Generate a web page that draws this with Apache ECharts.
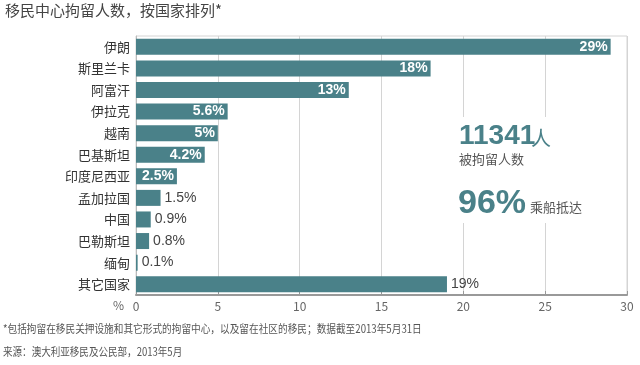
<!DOCTYPE html>
<html>
<head>
<meta charset="utf-8">
<script src="https://cdn.jsdelivr.net/npm/echarts@6/dist/echarts.min.js"></script>
<style>html,body{margin:0;padding:0;background:#fff}#c{width:640px;height:365px}</style>
</head>
<body>
<div id="c"></div>
<script>
const categories = ['伊朗','斯里兰卡','阿富汗','伊拉克','越南','巴基斯坦','印度尼西亚','孟加拉国','中国','巴勒斯坦','缅甸','其它国家'];
const values = [29, 18, 13, 5.6, 5, 4.2, 2.5, 1.5, 0.9, 0.8, 0.1, 19];
const outsideLabel = ['孟加拉国','中国','巴勒斯坦','缅甸','其它国家'];
const xTicks = [0, 5, 10, 15, 20, 25, 30];
const titleText = '移民中心拘留人数，按国家排列*';
const note1 = '*包括拘留在移民关押设施和其它形式的拘留中心，以及留在社区的移民；数据截至2013年5月31日';
const note2 = '来源：澳大利亚移民及公民部，2013年5月';
const bigNum = '11341';
const bigNumUnit = '人';
const bigNumSub = '被拘留人数';
const pct = '96%';
const pctSub = '乘船抵达';

const FONT = '"Noto Sans CJK SC", "Noto Sans", sans-serif';
const LATIN = '"Liberation Sans", Arial, sans-serif';
const TEAL = '#4a8189';

const data = values.map((v, i) => {
  const out = outsideLabel.indexOf(categories[i]) >= 0;
  return {
    value: v,
    label: out ? {
      position: 'right', color: '#444', fontWeight: 'normal', distance: 4
    } : {
      position: 'insideRight', color: '#fff', fontWeight: 'bold', distance: 3
    }
  };
});

const chart = echarts.init(document.getElementById('c'));
chart.setOption({
  animation: false,
  textStyle: { fontFamily: FONT },
  grid: { left: 136, right: 13, top: 36, bottom: 70, show: true, borderColor: '#d4d4d4', borderWidth: 1 },
  xAxis: {
    type: 'value', min: 0, max: 30, interval: 5,
    axisLine: { show: true, lineStyle: { color: '#999', width: 2 } },
    axisTick: { show: true, inside: true, length: 4, lineStyle: { color: '#999' } },
    splitLine: { show: true, lineStyle: { color: '#d4d4d4', width: 1 } },
    axisLabel: { color: '#666', fontSize: 12, fontFamily: FONT, margin: 5,
      formatter: v => xTicks.indexOf(v) >= 0 ? String(v) : '' }
  },
  yAxis: {
    type: 'category', data: categories, inverse: true,
    axisLine: { show: true, lineStyle: { color: '#bbb', width: 1 } },
    axisTick: { show: false },
    axisLabel: { color: '#333', fontSize: 13, fontFamily: FONT, margin: 6 }
  },
  series: [{
    type: 'bar', data: data, barWidth: 16,
    itemStyle: { color: TEAL },
    label: { show: true, formatter: p => p.value + '%', fontSize: 14, fontFamily: LATIN }
  }],
  graphic: [
    { type: 'text', left: 5, top: 3, style: { text: titleText, fill: '#444', font: '15px ' + FONT } },
    { type: 'text', left: 113, top: 299, style: { text: '%', fill: '#666', font: '12px ' + FONT } },
    { type: 'rect', shape: { x: 452, y: 117, width: 160, height: 106 }, style: { fill: '#fff' }, z: 50 },
    { type: 'text', left: 459, top: 122, z: 51, style: { text: bigNum, fill: TEAL, font: 'bold 28px ' + LATIN } },
    { type: 'text', left: 531, top: 128, z: 51, style: { text: bigNumUnit, fill: TEAL, font: '20px ' + FONT } },
    { type: 'text', left: 459, top: 153, z: 51, style: { text: bigNumSub, fill: '#555', font: '13px ' + FONT } },
    { type: 'text', left: 458, top: 187, z: 51, style: { text: pct, fill: TEAL, font: 'bold 34px ' + LATIN } },
    { type: 'text', left: 530, top: 201, z: 51, style: { text: pctSub, fill: '#555', font: '13px ' + FONT } },
    { type: 'text', x: 3, y: 323, scaleX: 0.84, style: { text: note1, fill: '#555', font: '11.5px ' + FONT } },
    { type: 'text', x: 3, y: 346, scaleX: 0.83, style: { text: note2, fill: '#555', font: '11.5px ' + FONT } }
  ]
});
</script>
</body>
</html>
